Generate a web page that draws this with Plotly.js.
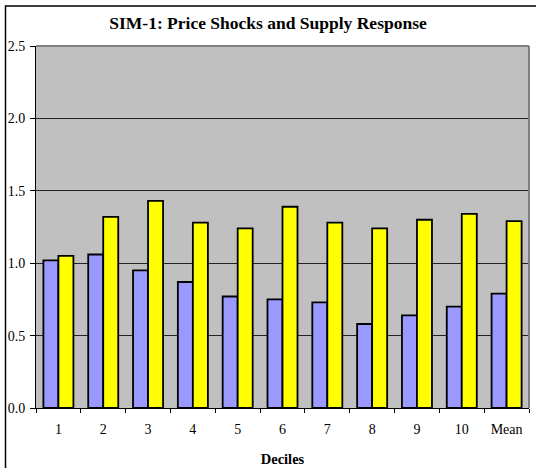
<!DOCTYPE html>
<html>
<head>
<meta charset="utf-8">
<script src="https://cdn.plot.ly/plotly-3.0.1.min.js"></script>
<style>html,body{margin:0;padding:0;background:#fff;}#chart{width:536px;height:468px;}</style>
</head>
<body>
<div id="chart"></div>
<script>
const categories = ["1","2","3","4","5","6","7","8","9","10","Mean"];
const seriesA = [1.02, 1.06, 0.95, 0.87, 0.77, 0.75, 0.73, 0.58, 0.64, 0.70, 0.79];
const seriesB = [1.05, 1.32, 1.43, 1.28, 1.24, 1.39, 1.28, 1.24, 1.30, 1.34, 1.29];
const yTicks = [0, 0.5, 1.0, 1.5, 2.0, 2.5];

const font = "Liberation Serif, Times New Roman, serif";
const traces = [
  {type:"bar", x:categories, y:seriesA, name:"A",
   marker:{color:"#9999FF", line:{color:"#000", width:1.8}}},
  {type:"bar", x:categories, y:seriesB, name:"B",
   marker:{color:"#FFFF00", line:{color:"#000", width:1.8}}}
];
const layout = {
  width:536, height:468,
  margin:{l:36, r:7, t:46, b:60},
  paper_bgcolor:"#fff", plot_bgcolor:"#C0C0C0",
  showlegend:false,
  barmode:"group", bargap:0.33, bargroupgap:0,
  font:{family:font, color:"#000", size:14},
  title:{text:"<b>SIM-1: Price Shocks and Supply Response</b>", x:0.5, xanchor:"center",
         y:1-23/468, yref:"container", yanchor:"middle", font:{family:font, size:17.5, color:"#000"}},
  xaxis:{type:"category", showline:true, linecolor:"#000", linewidth:1,
         ticks:"outside", tickson:"boundaries", ticklen:4, tickcolor:"#000",
         showgrid:false, tickfont:{family:font, size:14}, ticklabelstandoff:8,
         title:{text:"<b>Deciles</b>", font:{family:font, size:14.5}, standoff:18}},
  yaxis:{range:[0,2.5], tickvals:yTicks, tickformat:".1f", showline:true, linecolor:"#000",
         linewidth:1, ticks:"outside", ticklen:5, tickcolor:"#000",
         showgrid:true, gridcolor:"#222", gridwidth:1, zeroline:false,
         tickfont:{family:font, size:14}, ticklabelstandoff:2},
  shapes:[
    {type:"line", xref:"paper", yref:"paper", x0:0, x1:1, y0:1, y1:1, line:{color:"#808080", width:2}},
    {type:"line", xref:"paper", yref:"paper", x0:1, x1:1, y0:0, y1:1, line:{color:"#808080", width:2}},
    {type:"rect", xref:"paper", yref:"paper", x0:(5.5-36)/493, x1:(545-36)/493,
     y0:(408-475)/362, y1:(408-6)/362, line:{color:"#000", width:1.5}, fillcolor:"rgba(0,0,0,0)", layer:"below"}
  ]
};
Plotly.newPlot("chart", traces, layout, {displayModeBar:false, staticPlot:true});
</script>
</body>
</html>
